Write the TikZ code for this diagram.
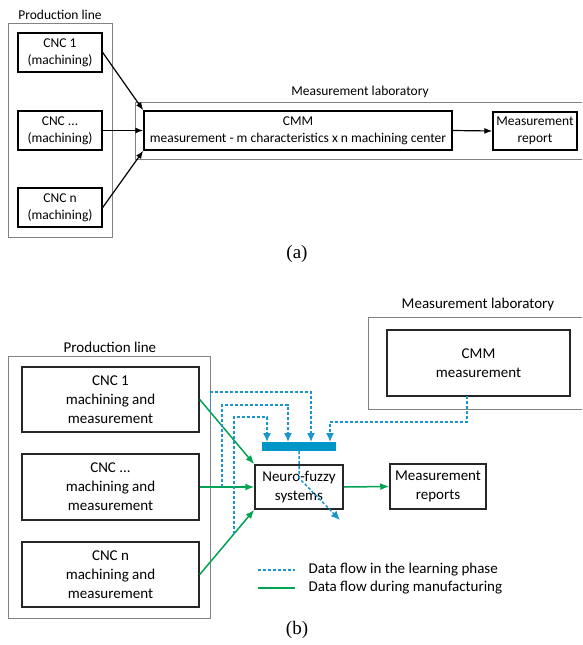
\documentclass[tikz,border=0pt]{standalone}
\usepackage{fontspec}
\setmainfont{Liberation Serif}
\newfontfamily\carlito{Carlito}
\usetikzlibrary{arrows.meta,positioning,calc}
\definecolor{flowgreen}{RGB}{0,163,82}
\definecolor{flowblue}{RGB}{25,150,205}
\definecolor{barblue}{RGB}{0,150,200}
\definecolor{framegray}{RGB}{130,130,130}

\tikzset{
  cncsmall/.style={draw=black,line width=1.4pt,align=center,inner sep=0pt,
                   font=\carlito\fontsize{13.5}{17}\selectfont},
  cncbig/.style={draw=black!85,line width=1.5pt,align=center,inner sep=0pt,
                 font=\carlito\fontsize{15}{19}\selectfont},
  framebox/.style={draw=framegray,line width=0.8pt},
  smalltext/.style={font=\carlito\fontsize{13.5}{17}\selectfont},
  bigtext/.style={font=\carlito\fontsize{15}{19}\selectfont},
  blackarrow/.style={-{Latex[length=8pt,width=6pt]},line width=1.2pt},
  greenarrow/.style={color=flowgreen,-{Latex[length=9pt,width=7pt]},line width=1.5pt},
  blueline/.style={color=flowblue,dash pattern=on 3pt off 2pt,line width=1.5pt},
  bluearrow/.style={blueline,-{Latex[length=9pt,width=8pt]}}
}

\begin{document}
\begin{tikzpicture}[x=1pt,y=-1pt]
\useasboundingbox (0,0) rectangle (582,645);
%% (a) Production line
\draw[framebox] (8,23) rectangle (112,237);
\node[smalltext] (prodlabA) at (60,15) {Production line};
\node[cncsmall,minimum width=84pt,minimum height=39pt] (cncA1) at (60,52.5) {CNC 1\\(machining)};
\node[cncsmall,minimum width=84pt,minimum height=39pt] (cncA2) at (60,130.5) {CNC ...\\(machining)};
\node[cncsmall,minimum width=84pt,minimum height=39pt] (cncA3) at (60,207.5) {CNC n\\(machining)};
%% (a) Measurement laboratory
\draw[framebox] (582,102) -- (135,102) -- (135,159) -- (582,159);
\node[smalltext] (lablabA) at (360,92) {Measurement laboratory};
\node[cncsmall,minimum width=308pt,minimum height=39pt] (cmmA) at (298,130.5)
  {CMM\\measurement - m characteristics x n machining center};
\node[cncsmall,minimum width=84pt,minimum height=38pt] (reportA) at (535,131)
  {Measurement\\report};
%% (a) Connectors
\draw[blackarrow] (cncA1.east) -- (cmmA.north west);
\draw[blackarrow] (cncA2.east) -- (cmmA.west);
\draw[blackarrow] (cncA3.east) -- (cmmA.south west);
\draw[blackarrow] (cmmA.east) -- (reportA.west);
\node[font=\fontsize{19}{22}\selectfont] (capA) at (297,254) {(a)};

%% (b) Production line
\draw[framebox] (8,356) rectangle (210,618);
\node[bigtext] (prodlabB) at (110,347) {Production line};
\node[cncbig,minimum width=177pt,minimum height=65pt] (cncB1) at (110.5,399.5) {CNC 1\\machining and\\measurement};
\node[cncbig,minimum width=177pt,minimum height=66pt] (cncB2) at (110.5,487) {CNC ...\\machining and\\measurement};
\node[cncbig,minimum width=177pt,minimum height=65pt] (cncB3) at (110.5,574.5) {CNC n\\machining and\\measurement};
%% (b) Measurement laboratory
\draw[framebox] (582,317) -- (368,317) -- (368,409) -- (582,409);
\node[bigtext] (lablabB) at (478,304) {Measurement laboratory};
\node[cncbig,minimum width=183pt,minimum height=66pt] (cmmB) at (478.5,363) {CMM\\measurement};
%% (b) Neuro-fuzzy and reports
\node[cncbig,minimum width=88pt,minimum height=44pt] (nfs) at (299,487) {Neuro-fuzzy\\systems};
\node[cncbig,minimum width=96pt,minimum height=45pt] (reports) at (438,486.5) {Measurement\\reports};
\node[fill=barblue,minimum width=74pt,minimum height=9pt,inner sep=0pt] (bar) at (299,446.5) {};
%% (b) Green flow
\draw[greenarrow] (cncB1.east) -- coordinate[pos=0.2] (tap1) (nfs.north west);
\draw[greenarrow] (cncB2.east) -- coordinate[pos=0.41] (tap2) (nfs.west);
\draw[greenarrow] (cncB3.east) -- coordinate[pos=0.625] (tap3) (nfs.south west);
\draw[greenarrow] (nfs.east) -- (reports.west);
%% (b) Blue flow
\coordinate (in1) at (267,442);
\coordinate (in2) at (288,442);
\coordinate (in3) at (311,442);
\coordinate (in4) at (330,442);
\coordinate (bend1) at (311,392);
\coordinate (bend2) at (288,405);
\coordinate (bend3) at (267,417);
\coordinate (bend4) at (330,422);
\coordinate (cmmtap) at (467,396);
\coordinate (fbend) at (299,478);
\coordinate (fend) at (340,520);
\draw[bluearrow] (tap1) |- (bend1) -- (in3);
\draw[bluearrow] (tap2) |- (bend2) -- (in2);
\draw[bluearrow] (tap3) |- (bend3) -- (in1);
\draw[bluearrow] (cmmtap) |- (bend4) -- (in4);
\draw[bluearrow] (bar.south) -- (fbend) -- (fend);
%% Legend
\coordinate (legA1) at (258,570);
\coordinate (legA2) at (295,570);
\coordinate (legB1) at (258,588);
\coordinate (legB2) at (295,588);
\draw[blueline] (legA1) -- (legA2);
\draw[color=flowgreen,line width=1.5pt] (legB1) -- (legB2);
\node[bigtext,anchor=west] (legtextA) at (305,570) {Data flow in the learning phase};
\node[bigtext,anchor=west] (legtextB) at (305,588) {Data flow during manufacturing};
\node[font=\fontsize{19}{22}\selectfont] (capB) at (297,630) {(b)};
\end{tikzpicture}
\end{document}
